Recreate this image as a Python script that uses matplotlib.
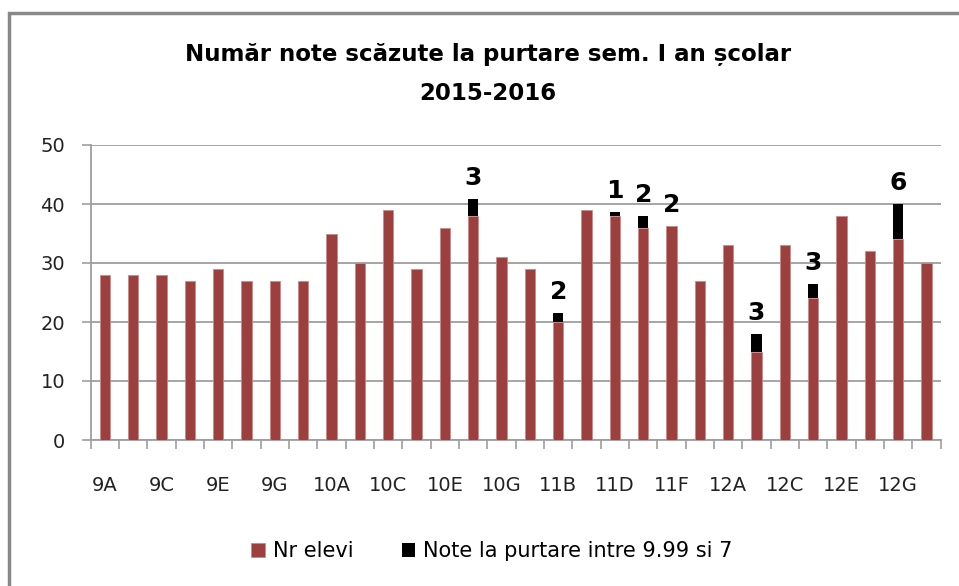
import matplotlib.pyplot as plt
from matplotlib.patches import Rectangle
from matplotlib.ticker import FixedLocator, MultipleLocator
import numpy as np

FONT = ['DejaVu Sans']
GRAY = '#9E9E9E'

classes = ['9A', '9B', '9C', '9D', '9E', '9F', '9G', '9H',
           '10A', '10B', '10C', '10D', '10E', '10F', '10G',
           '11A', '11B', '11C', '11D', '11E', '11F', '11G',
           '12A', '12B', '12C', '12D', '12E', '12F', '12G', '12H']
nr_elevi = [28, 28, 28, 27, 29, 27, 27, 27,
            35, 30, 39, 29, 36, 38, 31,
            29, 20, 39, 38, 36, 36.3, 27,
            33, 15, 33, 24, 38, 32, 34, 30]
# black segment heights as drawn in the picture
note_purtare = [0, 0, 0, 0, 0, 0, 0, 0,
                0, 0, 0, 0, 0, 2.8, 0,
                0, 1.5, 0, 0.7, 2, 0, 0,
                0, 3, 0, 2.5, 0, 0, 6, 0]
# data labels shown above the bars
note_labels = ['', '', '', '', '', '', '', '',
               '', '', '', '', '', '3', '',
               '', '2', '', '1', '2', '2', '',
               '', '3', '', '3', '', '', '6', '']

plt.rcParams['font.family'] = FONT

fig = plt.figure(figsize=(9.59, 5.86), dpi=100)
ax = fig.add_axes([90.7 / 959, 146 / 586, 850 / 959, 295 / 586])

x = np.arange(len(classes))
ax.bar(x, nr_elevi, width=0.37, color='#9B403E', edgecolor='#C98A88', linewidth=0.6,
       label='Nr elevi', zorder=3)
ax.bar(x, note_purtare, width=0.37, bottom=nr_elevi, color='black',
       label='Note la purtare intre 9.99 si 7', zorder=3)

for xi, base, top, lab in zip(x, nr_elevi, note_purtare, note_labels):
    if lab:
        ax.annotate(lab, (xi, base + top), xytext=(0, 15), textcoords='offset points',
                    ha='center', va='center', fontsize=18, fontweight='bold')

ax.set_xlim(-0.5, len(classes) - 0.5)
ax.set_ylim(0, 50)
ax.yaxis.set_major_locator(MultipleLocator(10))
ax.grid(axis='y', color=GRAY, linewidth=1.3, zorder=0)

ax.set_xticks(x[::2])
ax.set_xticklabels(classes[::2])
ax.xaxis.set_minor_locator(FixedLocator(np.arange(-0.5, len(classes), 1)))
ax.tick_params(axis='x', which='major', length=0, pad=26, labelsize=14, colors='#222222')
ax.tick_params(axis='x', which='minor', length=6.5, width=1.2, color=GRAY)
ax.tick_params(axis='y', length=6.5, width=1.2, color=GRAY, pad=12, labelsize=14,
               labelcolor='#222222')

for side in ['top', 'right']:
    ax.spines[side].set_visible(False)
for side in ['left', 'bottom']:
    ax.spines[side].set_color(GRAY)
    ax.spines[side].set_linewidth(1.3)

fig.text(488 / 959, 1 - 55 / 586, 'Număr note scăzute la purtare sem. I an școlar',
         ha='center', va='center', fontsize=16.5, fontweight='bold')
fig.text(488 / 959, 1 - 93 / 586, '2015-2016',
         ha='center', va='center', fontsize=16.5, fontweight='bold')

fig.legend(loc='center', bbox_to_anchor=(492 / 959, 1 - 551 / 586), ncol=2,
           frameon=False, fontsize=15, handlelength=0.65, handleheight=0.65,
           handletextpad=0.4, columnspacing=2.3)

fig.patches.append(Rectangle((9 / 959, -0.1), 1, 1.1 - 13 / 586, transform=fig.transFigure,
                             fill=False, edgecolor='#888888', linewidth=2.5))

fig.savefig('out.png', dpi=100)
